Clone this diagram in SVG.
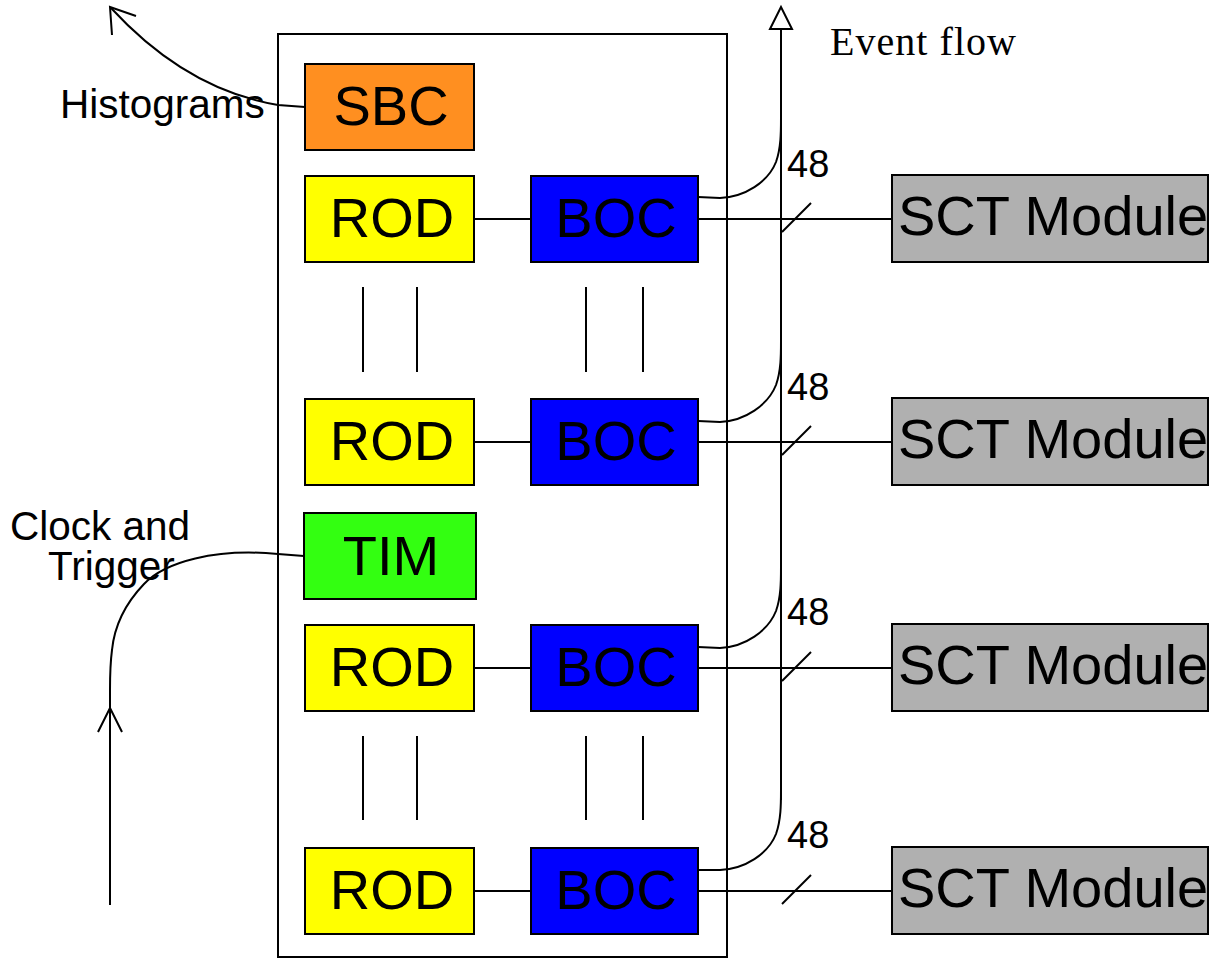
<svg xmlns="http://www.w3.org/2000/svg" width="1211" height="959" viewBox="0 0 1211 959">
<style>
.box{stroke:#000;stroke-width:2}
.rod{fill:#ffff00}
.boc{fill:#0000ff}
.sct{fill:#b0b0b0}
.ln{fill:none;stroke:#000;stroke-width:2}
.t{font-family:"Liberation Sans",Arial,sans-serif;font-size:56px;fill:#000;text-anchor:middle}
.s{font-family:"Liberation Sans",Arial,sans-serif;font-size:40.5px;fill:#000}
.n{font-family:"Liberation Sans",Arial,sans-serif;font-size:38px;fill:#000}
.ev{font-family:"Liberation Serif","Times New Roman",serif;font-size:40px;fill:#000}
</style>
<rect width="1211" height="959" fill="#fff"/>
<rect id="crate" x="278" y="34" width="449" height="923" fill="none" stroke="#000" stroke-width="2"/>
<g id="connectors">
  <line class="ln" x1="474" y1="219" x2="531" y2="219"/>
  <line class="ln" x1="474" y1="442" x2="531" y2="442"/>
  <line class="ln" x1="474" y1="668" x2="531" y2="668"/>
  <line class="ln" x1="474" y1="891" x2="531" y2="891"/>
  <line class="ln" x1="698" y1="219" x2="892" y2="219"/>
  <line class="ln" x1="698" y1="442" x2="892" y2="442"/>
  <line class="ln" x1="698" y1="668" x2="892" y2="668"/>
  <line class="ln" x1="698" y1="891" x2="892" y2="891"/>
  <line class="ln" x1="782" y1="232" x2="811" y2="203"/>
  <line class="ln" x1="782" y1="455" x2="811" y2="426"/>
  <line class="ln" x1="782" y1="681" x2="811" y2="652"/>
  <line class="ln" x1="782" y1="904" x2="811" y2="875"/>
  <line class="ln" x1="781" y1="29" x2="781" y2="800"/>
  <polygon points="781,7 770,29 792,29" fill="#fff" stroke="#000" stroke-width="2"/>
  <path class="ln" d="M698,197 L720,198 C745,197 768,182 776,162 C781,148 781,132 781,118"/>
  <path class="ln" d="M698,421 L720,422 C745,421 768,405 776,385 C781,371 781,355 781,341"/>
  <path class="ln" d="M698,647 L720,648 C745,647 768,631 776,611 C781,597 781,581 781,567"/>
  <path class="ln" d="M698,870 L720,870 C745,869 768,854 776,834 C781,820 781,804 781,790"/>
  <line class="ln" x1="363" y1="287" x2="363" y2="372"/>
  <line class="ln" x1="417" y1="287" x2="417" y2="372"/>
  <line class="ln" x1="586" y1="287" x2="586" y2="372"/>
  <line class="ln" x1="643" y1="287" x2="643" y2="372"/>
  <line class="ln" x1="363" y1="736" x2="363" y2="820"/>
  <line class="ln" x1="417" y1="736" x2="417" y2="820"/>
  <line class="ln" x1="586" y1="736" x2="586" y2="820"/>
  <line class="ln" x1="643" y1="736" x2="643" y2="820"/>
  <path class="ln" d="M305,107 L278,105 C230,97 170,72 111,8"/>
  <path class="ln" d="M136,16 L110,7 L112,35"/>
  <path class="ln" d="M304,556 L278,554 C215,548 165,562 144,584 C122,607 114,630 112,650 C110,665 110,675 110,690 L110,905"/>
  <path class="ln" d="M98,732 L110,708 L122,732"/>
</g>
<g id="labels">
  <text class="s" x="60" y="118">Histograms</text>
  <text class="s" x="10" y="540">Clock and</text>
  <text class="s" x="48" y="580">Trigger</text>
  <text class="ev" x="830" y="55" textLength="186">Event flow</text>
  <text class="n" x="787" y="177">48</text>
  <text class="n" x="787" y="400">48</text>
  <text class="n" x="787" y="625">48</text>
  <text class="n" x="787" y="848">48</text>
</g>
<g id="sbc"><rect class="box" x="305" y="64" width="169" height="86" fill="#ff8f20"/><text class="t" x="391" y="125">SBC</text></g>
<g id="tim"><rect class="box" x="304" y="513" width="172" height="86" fill="#33ff11"/><text class="t" x="391" y="575">TIM</text></g>
<g id="rod1"><rect class="box rod" x="305" y="176" width="169" height="86"/><text class="t" x="392" y="237">ROD</text></g>
<g id="boc1"><rect class="box boc" x="531" y="176" width="167" height="86"/><text class="t" x="616" y="237">BOC</text></g>
<g id="sct1"><rect class="box sct" x="892" y="175" width="316" height="87"/><text class="t" x="1053" y="235">SCT Module</text></g>
<g id="rod2"><rect class="box rod" x="305" y="399" width="169" height="86"/><text class="t" x="392" y="460">ROD</text></g>
<g id="boc2"><rect class="box boc" x="531" y="399" width="167" height="86"/><text class="t" x="616" y="460">BOC</text></g>
<g id="sct2"><rect class="box sct" x="892" y="398" width="316" height="87"/><text class="t" x="1053" y="458">SCT Module</text></g>
<g id="rod3"><rect class="box rod" x="305" y="625" width="169" height="86"/><text class="t" x="392" y="686">ROD</text></g>
<g id="boc3"><rect class="box boc" x="531" y="625" width="167" height="86"/><text class="t" x="616" y="686">BOC</text></g>
<g id="sct3"><rect class="box sct" x="892" y="624" width="316" height="87"/><text class="t" x="1053" y="684">SCT Module</text></g>
<g id="rod4"><rect class="box rod" x="305" y="848" width="169" height="86"/><text class="t" x="392" y="909">ROD</text></g>
<g id="boc4"><rect class="box boc" x="531" y="848" width="167" height="86"/><text class="t" x="616" y="909">BOC</text></g>
<g id="sct4"><rect class="box sct" x="892" y="847" width="316" height="87"/><text class="t" x="1053" y="907">SCT Module</text></g>
</svg>
